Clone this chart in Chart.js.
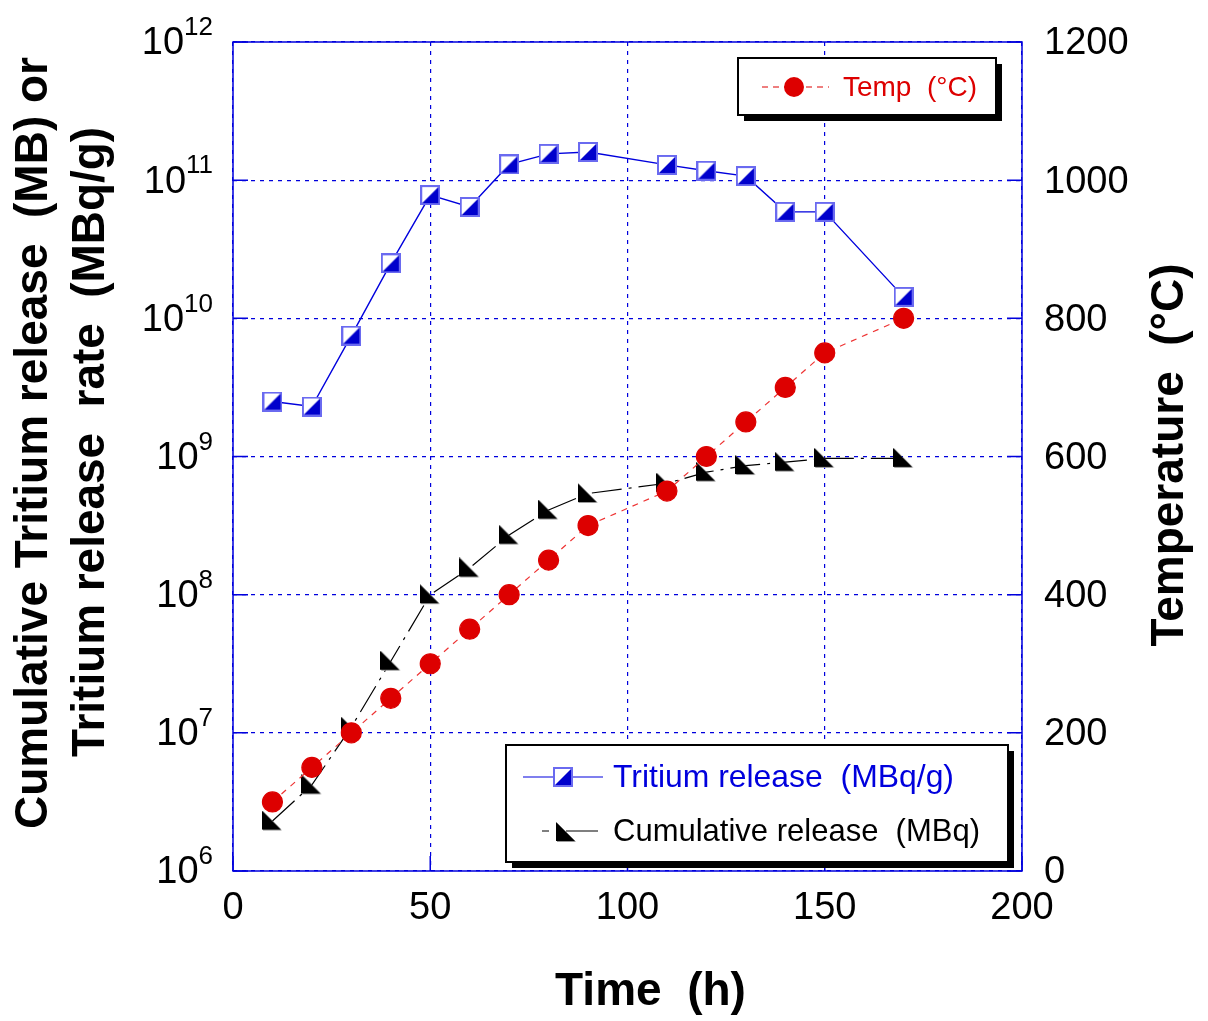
<!DOCTYPE html>
<html lang="en">
<head>
<meta charset="UTF-8">
<title>Tritium release</title>
<script src="https://cdn.jsdelivr.net/npm/chart.js"></script>
<style>
  body { margin: 0; background: #fff; }
  #wrap { width: 1208px; height: 1021px; }
</style>
</head>
<body>
<div id="wrap"><canvas id="chart" width="1208" height="1021"></canvas></div>
<script>
// data
const hours = [10, 20, 30, 40, 50, 60, 70, 80, 90, 110, 120, 130, 140, 150, 170];
const releaseRate = [2.5e9, 2.3e9, 7.5e9, 2.5e10, 7.8e10, 6.4e10, 1.3e11, 1.55e11, 1.6e11, 1.29e11, 1.17e11, 1.07e11, 5.9e10, 5.9e10, 1.43e10];
const cumulative = [2.3e6, 4.2e6, 1.1e7, 3.3e7, 1.0e8, 1.56e8, 2.7e8, 4.1e8, 5.4e8, 6.4e8, 7.7e8, 8.6e8, 9.1e8, 9.7e8, 9.7e8];
const temperature = [100, 150, 200, 250, 300, 350, 400, 450, 500, 550, 600, 650, 700, 750, 800];
const xTicks = [0, 50, 100, 150, 200];
const logTicks = [6, 7, 8, 9, 10, 11, 12];
const tempTicks = [0, 200, 400, 600, 800, 1000, 1200];

const BLUE = '#0000dd';
const RED = '#dd0000';
const FONT = '"Liberation Sans", Arial, sans-serif';

// marker images
function halfSquare(size) {
  const c = document.createElement('canvas');
  c.width = size; c.height = size;
  const g = c.getContext('2d');
  g.fillStyle = '#fff';
  g.fillRect(0, 0, size, size);
  g.fillStyle = '#0000cc';
  g.beginPath();
  g.moveTo(size, 0); g.lineTo(size, size); g.lineTo(0, size); g.closePath();
  g.fill();
  g.strokeStyle = '#6a6af0';
  g.lineWidth = 2;
  g.strokeRect(1, 1, size - 2, size - 2);
  return c;
}
function cornerTriangle(size) {
  const c = document.createElement('canvas');
  c.width = size + 2; c.height = size + 2;
  const g = c.getContext('2d');
  g.fillStyle = '#999';
  g.beginPath();
  g.moveTo(1, 1); g.lineTo(size + 1, size + 1); g.lineTo(1, size + 1); g.closePath();
  g.fill();
  g.fillStyle = '#000';
  g.beginPath();
  g.moveTo(0, 0); g.lineTo(size, size); g.lineTo(0, size); g.closePath();
  g.fill();
  return c;
}
const squareMark = halfSquare(20);
const triMark = cornerTriangle(19);

const pairs = ys => hours.map((h, i) => ({ x: h, y: ys[i] }));

function supLabel(ctx, exp, right, y) {
  ctx.textBaseline = 'middle';
  ctx.textAlign = 'left';
  ctx.font = '26px ' + FONT;
  const sw = ctx.measureText(String(exp)).width;
  ctx.font = '38px ' + FONT;
  const bw = ctx.measureText('10').width;
  const x0 = right - sw - bw;
  ctx.fillText('10', x0, y + 2);
  ctx.font = '26px ' + FONT;
  ctx.fillText(String(exp), x0 + bw, y - 14);
}

function legendBox(ctx, x, y, w, h) {
  ctx.fillStyle = '#000';
  ctx.fillRect(x + 6, y + 6, w, h);
  ctx.fillStyle = '#fff';
  ctx.fillRect(x, y, w, h);
  ctx.strokeStyle = '#000';
  ctx.lineWidth = 2;
  ctx.strokeRect(x, y, w, h);
}

const decor = {
  id: 'decor',
  beforeDatasetsDraw(chart) {
    const { ctx, chartArea: a, scales } = chart;
    ctx.save();
    ctx.strokeStyle = BLUE;
    ctx.lineWidth = 1.5;
    ctx.strokeRect(a.left, a.top, a.right - a.left, a.bottom - a.top);
    // inward tick marks
    ctx.lineWidth = 1.5;
    ctx.beginPath();
    logTicks.forEach(e => {
      const py = scales.y.getPixelForValue(Math.pow(10, e));
      ctx.moveTo(a.left, py); ctx.lineTo(a.left + 15, py);
    });
    tempTicks.forEach(v => {
      const py = scales.y2.getPixelForValue(v);
      ctx.moveTo(a.right, py); ctx.lineTo(a.right - 15, py);
    });
    xTicks.forEach(v => {
      const px = scales.x.getPixelForValue(v);
      ctx.moveTo(px, a.bottom); ctx.lineTo(px, a.bottom - 15);
    });
    ctx.stroke();
    ctx.restore();
  },
  afterDraw(chart) {
    const { ctx, chartArea: a, scales } = chart;
    ctx.save();
    ctx.fillStyle = '#000';

    // x tick labels
    ctx.font = '38px ' + FONT;
    ctx.textAlign = 'center';
    ctx.textBaseline = 'middle';
    xTicks.forEach(v => ctx.fillText(String(v), scales.x.getPixelForValue(v), a.bottom + 38));

    // left log labels
    logTicks.forEach(e => supLabel(ctx, e, 213, scales.y.getPixelForValue(Math.pow(10, e))));

    // right labels
    ctx.font = '38px ' + FONT;
    ctx.textAlign = 'left';
    ctx.textBaseline = 'middle';
    tempTicks.forEach(v => ctx.fillText(String(v), a.right + 22, scales.y2.getPixelForValue(v) + 2));

    // axis titles
    ctx.font = 'bold 46px ' + FONT;
    ctx.textAlign = 'center';
    ctx.textBaseline = 'middle';
    ctx.fillText('Time  (h)', (a.left + a.right) / 2 + 23, 992);

    ctx.save();
    ctx.translate(34, 443);
    ctx.rotate(-Math.PI / 2);
    ctx.fillText('Cumulative Tritium release  (MB) or', 0, 0, 777);
    ctx.restore();
    ctx.save();
    ctx.translate(91, 442);
    ctx.rotate(-Math.PI / 2);
    ctx.fillText('Tritium release  rate  (MBq/g)', 0, 0, 630);
    ctx.restore();
    ctx.save();
    ctx.translate(1170, 455);
    ctx.rotate(-Math.PI / 2);
    ctx.fillText('Temperature  (\u00B0C)', 0, 0, 390);
    ctx.restore();

    // temperature legend
    legendBox(ctx, 738, 58, 258, 57);
    ctx.strokeStyle = RED;
    ctx.lineWidth = 1.2;
    ctx.setLineDash([6, 5]);
    ctx.beginPath(); ctx.moveTo(762, 87); ctx.lineTo(829, 87); ctx.stroke();
    ctx.setLineDash([]);
    ctx.fillStyle = RED;
    ctx.beginPath(); ctx.arc(794, 87, 10, 0, Math.PI * 2); ctx.fill();
    ctx.font = '28px ' + FONT;
    ctx.textAlign = 'left';
    ctx.textBaseline = 'middle';
    ctx.fillText('Temp  (\u00B0C)', 843, 88, 134);

    // release legend
    legendBox(ctx, 506, 745, 502, 117);
    ctx.strokeStyle = BLUE;
    ctx.lineWidth = 1.2;
    ctx.beginPath(); ctx.moveTo(523, 777); ctx.lineTo(603, 777); ctx.stroke();
    ctx.drawImage(squareMark, 553, 767);
    ctx.fillStyle = BLUE;
    ctx.font = '32px ' + FONT;
    ctx.fillText('Tritium release  (MBq/g)', 613, 778, 341);

    ctx.strokeStyle = '#000';
    ctx.beginPath(); ctx.moveTo(542, 831); ctx.lineTo(549, 831); ctx.moveTo(566, 831); ctx.lineTo(598, 831); ctx.stroke();
    ctx.drawImage(triMark, 556, 822);
    ctx.fillStyle = '#000';
    ctx.fillText('Cumulative release  (MBq)', 613, 832, 367);
    ctx.restore();
  }
};

new Chart(document.getElementById('chart'), {
  type: 'line',
  data: {
    datasets: [
      {
        label: 'Tritium release  (MBq/g)',
        data: pairs(releaseRate),
        yAxisID: 'y',
        borderColor: BLUE,
        borderWidth: 1.4,
        pointStyle: squareMark,
        order: 0
      },
      {
        label: 'Temp  (\u00B0C)',
        data: pairs(temperature),
        yAxisID: 'y2',
        borderColor: '#ee3333',
        borderWidth: 1.2,
        borderDash: [6, 6],
        pointStyle: 'circle',
        pointRadius: 10,
        pointBackgroundColor: RED,
        pointBorderColor: RED,
        order: 1
      },
      {
        label: 'Cumulative release  (MBq)',
        data: pairs(cumulative),
        yAxisID: 'y',
        borderColor: '#000',
        borderWidth: 1.2,
        borderDash: [30, 7, 3, 7],
        pointStyle: triMark,
        order: 2
      }
    ]
  },
  options: {
    responsive: false,
    animation: false,
    layout: { padding: { left: 233, right: 186, top: 42, bottom: 150 } },
    plugins: { legend: { display: false }, tooltip: { enabled: false } },
    scales: {
      x: {
        type: 'linear', min: 0, max: 200,
        afterBuildTicks: s => { s.ticks = xTicks.map(v => ({ value: v })); },
        ticks: { display: false },
        grid: { color: BLUE, lineWidth: 1.2, drawTicks: false },
        border: { display: false, dash: [4, 5] }
      },
      y: {
        type: 'logarithmic', position: 'left', min: 1e6, max: 1e12,
        afterBuildTicks: s => { s.ticks = logTicks.map(e => ({ value: Math.pow(10, e) })); },
        ticks: { display: false },
        grid: { color: BLUE, lineWidth: 1.2, drawTicks: false },
        border: { display: false, dash: [4, 5] }
      },
      y2: {
        type: 'linear', position: 'right', min: 0, max: 1200,
        ticks: { display: false },
        grid: { display: false, drawTicks: false },
        border: { display: false }
      }
    }
  },
  plugins: [decor]
});
</script>
</body>
</html>
